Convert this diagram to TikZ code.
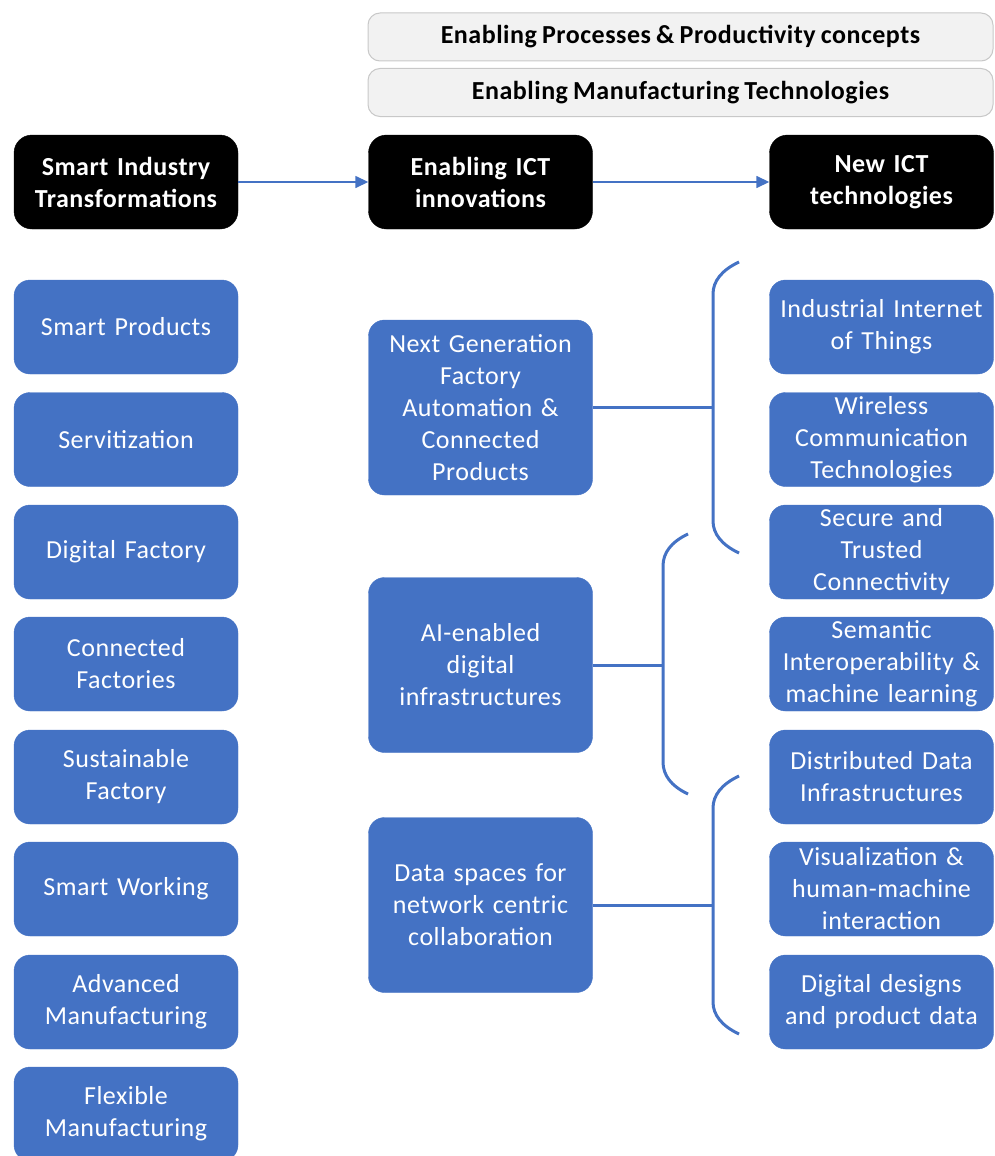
\documentclass[tikz,border=0pt]{standalone}
\usepackage{fontspec}
\setmainfont{Carlito}[WordSpace=0.8,LetterSpace=2]
\usetikzlibrary{arrows.meta}
\definecolor{officeblue}{HTML}{4472C4}
\definecolor{greyfill}{HTML}{F2F2F2}
\definecolor{greyline}{HTML}{C8C8C8}
\tikzset{
  bluebox/.style={draw=officeblue, fill=officeblue, rounded corners=16pt, minimum width=224pt, minimum height=94pt, text width=220pt, align=center, text=white, inner sep=0pt, font=\fontsize{26}{32}\selectfont},
  midbox/.style={bluebox, minimum height=175pt},
  blackbox/.style={draw=black, fill=black, rounded corners=18pt, minimum width=224pt, minimum height=94pt, text width=220pt, align=center, text=white, inner sep=0pt, font=\bfseries\fontsize{26}{32}\selectfont},
  greybox/.style={draw=greyline, fill=greyfill, line width=1pt, rounded corners=12pt, minimum width=625pt, minimum height=48pt, inner sep=0pt, font=\bfseries\fontsize{26}{28}\selectfont, text=black},
  flowarrow/.style={draw=officeblue, line width=1.5pt, -{Triangle[length=13pt,width=12pt]}},
  braceline/.style={draw=officeblue, line width=3pt},
}
\begin{document}
\begin{tikzpicture}[x=1pt,y=-1pt]
\useasboundingbox (0,0) rectangle (995,1156);
% grey headers
\node[greybox] (gp) at (680.5,37) {Enabling Processes \& Productivity concepts};
\node[greybox] (gm) at (680.5,92.5) {Enabling Manufacturing Technologies};
% black headers
\node[blackbox] (sit) at (126,182) {Smart Industry\\Transformations};
\node[blackbox] (eict) at (480.5,182) {Enabling ICT\\innovations};
\node[blackbox] (nict) at (881.5,182) {New ICT\\technologies};
\draw[flowarrow] (sit) -- (eict);
\draw[flowarrow] (eict) -- (nict);
% left column
\node[bluebox] (l1) at (126,327) {Smart Products};
\node[bluebox] (l2) at (126,439.5) {Servitization};
\node[bluebox] (l3) at (126,552) {Digital Factory};
\node[bluebox] (l4) at (126,664) {Connected\\Factories};
\node[bluebox] (l5) at (126,777) {Sustainable\\Factory};
\node[bluebox] (l6) at (126,889) {Smart Working};
\node[bluebox] (l7) at (126,1002) {Advanced\\Manufacturing};
\node[bluebox] (l8) at (126,1114) {Flexible\\Manufacturing};
% middle column
\node[midbox] (m1) at (480.5,407.5) {Next Generation\\Factory\\Automation \&\\Connected\\Products};
\node[midbox] (m2) at (480.5,665) {AI-enabled\\digital\\infrastructures};
\node[midbox] (m3) at (480.5,905) {Data spaces for\\network centric\\collaboration};
% right column
\node[bluebox] (r1) at (881.5,327) {Industrial Internet\\of Things};
\node[bluebox] (r2) at (881.5,439.5) {Wireless\\Communication\\Technologies};
\node[bluebox] (r3) at (881.5,552) {Secure and\\Trusted\\Connectivity};
\node[bluebox] (r4) at (881.5,664) {Semantic\\Interoperability \&\\machine learning};
\node[bluebox] (r5) at (881.5,777) {Distributed Data\\Infrastructures};
\node[bluebox] (r6) at (881.5,889) {Visualization \&\\human-machine\\interaction};
\node[bluebox] (r7) at (881.5,1002) {Digital designs\\and product data};
% braces
\coordinate (b1) at (713,407.5);
\coordinate (b2) at (663,665);
\coordinate (b3) at (713,905);
\draw[braceline] (739,262) .. controls (722,270) and (713,281) .. (713,294) -- (713,521) .. controls (713,534) and (722,545) .. (739,553);
\draw[braceline] (688,534) .. controls (671,542) and (663,553) .. (663,566) -- (663,762) .. controls (663,775) and (671,786) .. (688,794);
\draw[braceline] (739,776) .. controls (722,784) and (713,795) .. (713,808) -- (713,1002) .. controls (713,1015) and (722,1026) .. (739,1034);
\draw[braceline] (m1.east) -- (b1);
\draw[braceline] (m2.east) -- (b2);
\draw[braceline] (m3.east) -- (b3);
\end{tikzpicture}
\end{document}
